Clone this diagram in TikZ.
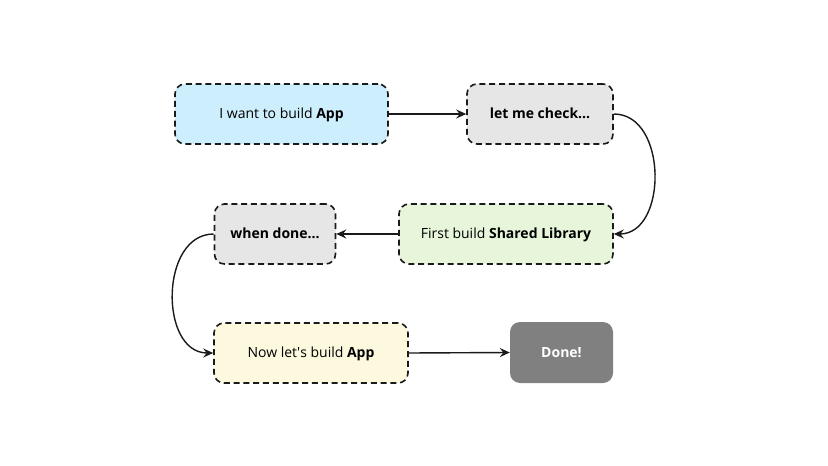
\documentclass[tikz,border=0pt]{standalone}
\usepackage{fontspec}
\setmainfont{Open Sans}
\usetikzlibrary{arrows.meta}
\definecolor{cblue}{HTML}{CDEFFD}
\definecolor{cgray}{HTML}{E6E6E6}
\definecolor{cgreen}{HTML}{E7F5DA}
\definecolor{cyellow}{HTML}{FDF9DE}
\definecolor{cdone}{HTML}{808080}
\definecolor{cline}{HTML}{1A1A1A}
\begin{document}
\begin{tikzpicture}[x=1pt,y=-1pt,
  box/.style={draw=cline, line width=1.6pt, dash pattern=on 6pt off 3.8pt, rounded corners=10pt, font=\fontsize{14}{17}\selectfont, inner sep=0pt, text depth=0pt, text height=9pt},
  conn/.style={draw=cline, line width=1.4pt, -{Stealth[length=10pt,width=9pt,inset=3.5pt]}}]
\useasboundingbox (0,0) rectangle (828,466);
\fill[white] (0,0) rectangle (828,466);
\node[box, fill=cblue, minimum width=213pt, minimum height=60pt] (a) at (281.5,114) {I want to build \textbf{App}};
\node[box, fill=cgray, minimum width=146pt, minimum height=60pt] (b) at (540,114) {\textbf{let me check...}};
\node[box, fill=cgreen, minimum width=214pt, minimum height=60pt] (c) at (506,234) {First build \textbf{Shared Library}};
\node[box, fill=cgray, minimum width=121pt, minimum height=60pt] (d) at (275,234) {\textbf{when done...}};
\node[box, fill=cyellow, minimum width=194pt, minimum height=60pt] (e) at (311,353) {Now let\textquotesingle s build \textbf{App}};
\node[fill=cdone, rounded corners=10pt, minimum width=103pt, minimum height=61pt, inner sep=0pt, text depth=0pt, text height=9pt, text=white, font=\fontsize{14}{17}\selectfont\bfseries] (f) at (561.5,352.5) {Done!};
\draw[conn] (a.east) -- (b.west);
\draw[conn] (b.east) to[out=0, in=0, distance=54pt] (c.east);
\draw[conn] (c.west) -- (d.west -| d.east);
\draw[conn] (d.west) to[out=180, in=180, distance=54pt] (e.west);
\draw[conn] (e.east) -- (f.west);
\end{tikzpicture}
\end{document}
